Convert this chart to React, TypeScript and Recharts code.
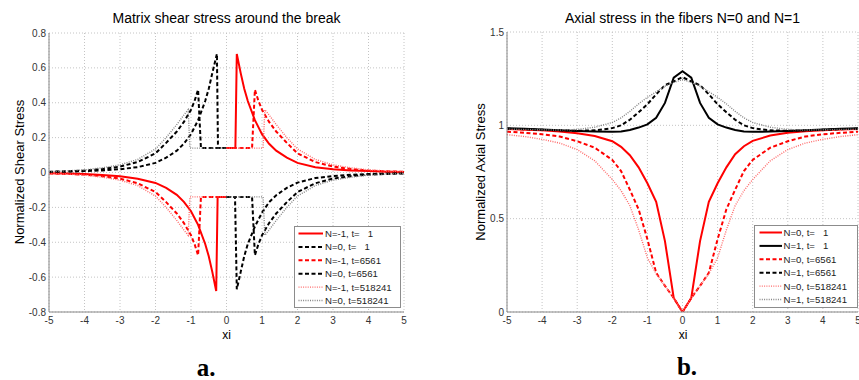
import React from 'react';
import { LineChart, Line, XAxis, YAxis, CartesianGrid } from 'recharts';

const FONT = '"Liberation Sans", Arial, Helvetica, sans-serif';

// ---------- Panel a: matrix shear stress ----------
const shearXTicks = [-5, -4, -3, -2, -1, 0, 1, 2, 3, 4, 5];
const shearYTicks = [-0.8, -0.6, -0.4, -0.2, 0, 0.2, 0.4, 0.6, 0.8];

// N=-1, t=1
const shearX_Nm1_t1 = [-5, -4.5, -4, -3.5, -3, -2.5, -2, -1.7, -1.4, -1.2, -1, -0.8, -0.6, -0.5, -0.4, -0.29, -0.25, 0, 0, 0, 0.25, 0.29, 0.4, 0.5, 0.6, 0.8, 1, 1.2, 1.4, 1.7, 2, 2.5, 3, 3.5, 4, 4.5, 5];
const shearY_Nm1_t1 = [-0.004, -0.006, -0.009, -0.014, -0.022, -0.036, -0.06, -0.088, -0.128, -0.168, -0.222, -0.3, -0.41, -0.48, -0.57, -0.68, -0.14, -0.14, null, 0.14, 0.14, 0.68, 0.57, 0.48, 0.41, 0.3, 0.22, 0.165, 0.125, 0.085, 0.055, 0.03, 0.018, 0.012, 0.008, 0.005, 0.003];
// N=0, t=1
const shearX_N0_t1 = [-5, -4.5, -4, -3.5, -3, -2.5, -2, -1.7, -1.4, -1.2, -1, -0.8, -0.6, -0.5, -0.4, -0.27, -0.24, 0, 0, 0, 0.24, 0.29, 0.4, 0.5, 0.6, 0.8, 1, 1.2, 1.4, 1.7, 2, 2.5, 3, 3.5, 4, 4.5, 5];
const shearY_N0_t1 = [0.003, 0.005, 0.008, 0.012, 0.019, 0.031, 0.055, 0.085, 0.125, 0.165, 0.22, 0.3, 0.41, 0.48, 0.57, 0.68, 0.14, 0.14, null, -0.14, -0.14, -0.67, -0.57, -0.48, -0.41, -0.31, -0.23, -0.17, -0.13, -0.088, -0.058, -0.032, -0.02, -0.013, -0.009, -0.006, -0.004];
// N=-1, t=6561
const shearX_Nm1_t6561 = [-5, -4.5, -4, -3.5, -3, -2.5, -2, -1.7, -1.4, -1.2, -1, -0.9, -0.8, -0.72, 0, 0, 0, 0.72, 0.8, 0.9, 1, 1.2, 1.4, 1.7, 2, 2.5, 3, 3.5, 4, 4.5, 5];
const shearY_Nm1_t6561 = [-0.005, -0.008, -0.012, -0.021, -0.035, -0.062, -0.112, -0.17, -0.235, -0.29, -0.36, -0.41, -0.475, -0.14, -0.14, null, 0.14, 0.14, 0.475, 0.41, 0.36, 0.29, 0.235, 0.17, 0.11, 0.06, 0.034, 0.02, 0.011, 0.007, 0.004];
// N=0, t=6561
const shearX_N0_t6561 = [-5, -4.5, -4, -3.5, -3, -2.5, -2, -1.7, -1.4, -1.2, -1, -0.9, -0.8, -0.72, 0, 0, 0, 0.72, 0.8, 0.9, 1, 1.2, 1.4, 1.7, 2, 2.5, 3, 3.5, 4, 4.5, 5];
const shearY_N0_t6561 = [0.004, 0.007, 0.011, 0.02, 0.034, 0.06, 0.11, 0.17, 0.235, 0.29, 0.36, 0.41, 0.475, 0.14, 0.14, null, -0.14, -0.14, -0.475, -0.41, -0.36, -0.29, -0.235, -0.17, -0.112, -0.062, -0.035, -0.021, -0.012, -0.008, -0.005];
// N=-1, t=518241
const shearX_Nm1_t518241 = [-5, -4.5, -4, -3.5, -3, -2.5, -2, -1.7, -1.4, -1.2, -1.08, -1.03, 0, 0, 0, 1.03, 1.08, 1.2, 1.4, 1.7, 2, 2.5, 3, 3.5, 4, 4.5, 5];
const shearY_Nm1_t518241 = [-0.005, -0.009, -0.015, -0.027, -0.044, -0.075, -0.135, -0.2, -0.275, -0.33, -0.36, -0.14, -0.14, null, 0.14, 0.14, 0.36, 0.33, 0.275, 0.2, 0.135, 0.075, 0.044, 0.027, 0.015, 0.009, 0.005];
// N=0, t=518241
const shearX_N0_t518241 = [-5, -4.5, -4, -3.5, -3, -2.5, -2, -1.7, -1.4, -1.2, -1.08, -1.03, 0, 0, 0, 1.03, 1.08, 1.2, 1.4, 1.7, 2, 2.5, 3, 3.5, 4, 4.5, 5];
const shearY_N0_t518241 = [0.005, 0.009, 0.015, 0.027, 0.044, 0.075, 0.135, 0.2, 0.275, 0.33, 0.36, 0.14, 0.14, null, -0.14, -0.14, -0.36, -0.33, -0.275, -0.2, -0.135, -0.075, -0.044, -0.027, -0.015, -0.009, -0.005];

// ---------- Panel b: axial stress ----------
const axialXTicks = [-5, -4, -3, -2, -1, 0, 1, 2, 3, 4, 5];
const axialYTicks = [0, 0.5, 1, 1.5];
const axialXi = [-5, -4.5, -4, -3.5, -3, -2.5, -2, -1.75, -1.5, -1.25, -1, -0.75, -0.5, -0.25, 0, 0.25, 0.5, 0.75, 1, 1.25, 1.5, 1.75, 2, 2.5, 3, 3.5, 4, 4.5, 5];
const axial_N0_t1 = [0.98, 0.977, 0.973, 0.967, 0.958, 0.943, 0.915, 0.885, 0.84, 0.775, 0.69, 0.59, 0.38, 0.075, 0, 0.075, 0.38, 0.59, 0.69, 0.775, 0.845, 0.888, 0.917, 0.945, 0.96, 0.968, 0.974, 0.978, 0.981];
const axial_N1_t1 = [0.985, 0.982, 0.978, 0.974, 0.97, 0.967, 0.965, 0.967, 0.975, 0.988, 1.005, 1.04, 1.12, 1.255, 1.29, 1.255, 1.12, 1.04, 1.005, 0.988, 0.975, 0.967, 0.965, 0.967, 0.97, 0.974, 0.978, 0.982, 0.985];
const axial_N0_t6561 = [0.966, 0.96, 0.952, 0.94, 0.915, 0.88, 0.815, 0.755, 0.655, 0.55, 0.39, 0.21, 0.14, 0.075, 0, 0.075, 0.14, 0.21, 0.39, 0.55, 0.655, 0.755, 0.815, 0.88, 0.915, 0.94, 0.952, 0.96, 0.966];
const axial_N1_t6561 = [0.982, 0.979, 0.976, 0.973, 0.971, 0.973, 0.985, 1.0, 1.03, 1.07, 1.113, 1.166, 1.215, 1.235, 1.258, 1.235, 1.215, 1.166, 1.113, 1.07, 1.03, 1.0, 0.985, 0.973, 0.971, 0.973, 0.976, 0.979, 0.982];
const axial_N0_t518241 = [0.95, 0.94, 0.925, 0.905, 0.87, 0.81, 0.71, 0.65, 0.57, 0.44, 0.29, 0.205, 0.14, 0.075, 0, 0.075, 0.14, 0.205, 0.29, 0.44, 0.57, 0.65, 0.71, 0.81, 0.87, 0.905, 0.925, 0.94, 0.95];
const axial_N1_t518241 = [0.98, 0.978, 0.976, 0.975, 0.978, 0.99, 1.015, 1.04, 1.075, 1.115, 1.15, 1.18, 1.21, 1.23, 1.245, 1.23, 1.21, 1.18, 1.15, 1.115, 1.075, 1.04, 1.015, 0.99, 0.978, 0.975, 0.976, 0.978, 0.98];

// ---------- helpers ----------
type Pt = { x: number; y: number | null };
const zip = (xs: number[], ys: (number | null)[]): Pt[] => xs.map((x, i) => ({ x, y: ys[i] }));

type Kind = 'solid' | 'dashed' | 'dotted';
const strokeProps = (color: string, kind: Kind) => {
  if (kind === 'solid') return { stroke: color, strokeWidth: 2 };
  if (kind === 'dashed') return { stroke: color, strokeWidth: 2, strokeDasharray: '4 2.5' };
  return { stroke: color, strokeWidth: 1.4, strokeDasharray: '1 1.3' };
};

const RED = '#ff0000';
const BLACK = '#000000';
const PINK = '#ff6a6a';
const GRAY = '#858585';

type Series = { name: string; color: string; kind: Kind; data: Pt[] };

const shearSeries: Series[] = [
  { name: 'N=-1, t=   1', color: RED, kind: 'solid', data: zip(shearX_Nm1_t1, shearY_Nm1_t1) },
  { name: 'N=0, t=   1', color: BLACK, kind: 'dashed', data: zip(shearX_N0_t1, shearY_N0_t1) },
  { name: 'N=-1, t=6561', color: RED, kind: 'dashed', data: zip(shearX_Nm1_t6561, shearY_Nm1_t6561) },
  { name: 'N=0, t=6561', color: BLACK, kind: 'dashed', data: zip(shearX_N0_t6561, shearY_N0_t6561) },
  { name: 'N=-1, t=518241', color: PINK, kind: 'dotted', data: zip(shearX_Nm1_t518241, shearY_Nm1_t518241) },
  { name: 'N=0, t=518241', color: GRAY, kind: 'dotted', data: zip(shearX_N0_t518241, shearY_N0_t518241) },
];

const axialSeries: Series[] = [
  { name: 'N=0, t=   1', color: RED, kind: 'solid', data: zip(axialXi, axial_N0_t1) },
  { name: 'N=1, t=   1', color: BLACK, kind: 'solid', data: zip(axialXi, axial_N1_t1) },
  { name: 'N=0, t=6561', color: RED, kind: 'dashed', data: zip(axialXi, axial_N0_t6561) },
  { name: 'N=1, t=6561', color: BLACK, kind: 'dashed', data: zip(axialXi, axial_N1_t6561) },
  { name: 'N=0, t=518241', color: PINK, kind: 'dotted', data: zip(axialXi, axial_N0_t518241) },
  { name: 'N=1, t=518241', color: GRAY, kind: 'dotted', data: zip(axialXi, axial_N1_t518241) },
];

const tickStyle = { fontSize: 10, fill: '#333', fontFamily: FONT };
const axisLine = { stroke: '#888', strokeWidth: 1 };

function Txt({ x, y, children, size = 11, rotate = 0, weight = 400, family = FONT, color = '#000' }: any) {
  return (
    <div
      style={{
        position: 'absolute',
        left: x,
        top: y,
        transform: `translate(-50%, -50%) rotate(${rotate}deg)`,
        whiteSpace: 'pre',
        fontSize: size,
        fontFamily: family,
        fontWeight: weight,
        color,
        lineHeight: 1,
      }}
    >
      {children}
    </div>
  );
}

function LegendBox({ left, top, width, height, items, sx0, sx1, tx }: any) {
  return (
    <div
      style={{
        position: 'absolute',
        left,
        top,
        width,
        height,
        boxSizing: 'border-box',
        border: '1px solid #8c8c8c',
        background: '#fff',
      }}
    >
      <svg width={width} height={height} style={{ position: 'absolute', left: -1, top: -1 }}>
        {items.map((s: Series, i: number) => {
          const cy = 7.5 + i * 13.4;
          return (
            <g key={s.name}>
              <line x1={sx0} x2={sx1} y1={cy} y2={cy} {...strokeProps(s.color, s.kind)} />
              <text x={tx} y={cy + 3.4} fontSize={9.6} fontFamily={FONT} fill="#222" style={{ whiteSpace: 'pre' }}>
                {s.name}
              </text>
            </g>
          );
        })}
      </svg>
    </div>
  );
}

export default function App() {
  return (
    <div style={{ position: 'absolute', left: 0, top: 0, width: 859, height: 380, background: '#fff', overflow: 'hidden' }}>
      {/* Panel a */}
      <div style={{ position: 'absolute', left: 0, top: 0 }}>
        <LineChart width={430} height={380} margin={{ top: 33, right: 26, bottom: 38, left: 0 }}>
          <CartesianGrid stroke="#c4c4c4" strokeDasharray="1 2" />
          <XAxis
            type="number"
            dataKey="x"
            domain={[-5, 5]}
            ticks={shearXTicks}
            interval={0}
            height={30}
            tickSize={0}
            tickMargin={5}
            axisLine={axisLine}
            tick={tickStyle}
            allowDataOverflow
          />
          <YAxis
            type="number"
            domain={[-0.8, 0.8]}
            ticks={shearYTicks}
            interval={0}
            width={49}
            tickSize={0}
            tickMargin={3}
            axisLine={axisLine}
            tick={tickStyle}
            tickFormatter={(v: number) => String(v)}
            allowDataOverflow
          />
          {shearSeries.map((s) => (
            <Line
              key={s.name}
              name={s.name}
              data={s.data}
              dataKey="y"
              type="linear"
              dot={false}
              activeDot={false}
              connectNulls={false}
              isAnimationActive={false}
              {...strokeProps(s.color, s.kind)}
            />
          ))}
        </LineChart>
      </div>

      {/* Panel b */}
      <div style={{ position: 'absolute', left: 430, top: 0 }}>
        <LineChart width={429} height={380} margin={{ top: 32, right: 1, bottom: 38, left: 0 }}>
          <CartesianGrid stroke="#c4c4c4" strokeDasharray="1 2" />
          <XAxis
            type="number"
            dataKey="x"
            domain={[-5, 5]}
            ticks={axialXTicks}
            interval={0}
            height={30}
            tickSize={0}
            tickMargin={5}
            axisLine={axisLine}
            tick={tickStyle}
            allowDataOverflow
          />
          <YAxis
            type="number"
            domain={[0, 1.5]}
            ticks={axialYTicks}
            interval={0}
            width={77}
            tickSize={0}
            tickMargin={3}
            axisLine={axisLine}
            tick={tickStyle}
            tickFormatter={(v: number) => String(v)}
            allowDataOverflow
          />
          {axialSeries.map((s) => (
            <Line
              key={s.name}
              name={s.name}
              data={s.data}
              dataKey="y"
              type="linear"
              dot={false}
              activeDot={false}
              isAnimationActive={false}
              {...strokeProps(s.color, s.kind)}
            />
          ))}
        </LineChart>
      </div>

      {/* Titles and labels */}
      <Txt x={226.5} y={17.5} size={14}>Matrix shear stress around the break</Txt>
      <Txt x={682.5} y={17.5} size={14}>Axial stress in the fibers N=0 and N=1</Txt>
      <Txt x={18.5} y={172} size={13} rotate={-90}>Normalized Shear Stress</Txt>
      <Txt x={479.5} y={172} size={13} rotate={-90}>Normalized Axial Stress</Txt>
      <Txt x={226.5} y={335} size={12}>xi</Txt>
      <Txt x={683} y={335} size={12}>xi</Txt>
      <Txt x={206} y={367} size={25} weight={700} family={'"Liberation Serif", "Times New Roman", serif'}>a.</Txt>
      <Txt x={687} y={366} size={25} weight={700} family={'"Liberation Serif", "Times New Roman", serif'}>b.</Txt>

      <LegendBox left={294} top={226} width={107} height={82} items={shearSeries} sx0={4.5} sx1={29} tx={31} />
      <LegendBox left={754} top={225} width={104} height={83} items={axialSeries} sx0={5.5} sx1={28} tx={29.5} />
    </div>
  );
}
